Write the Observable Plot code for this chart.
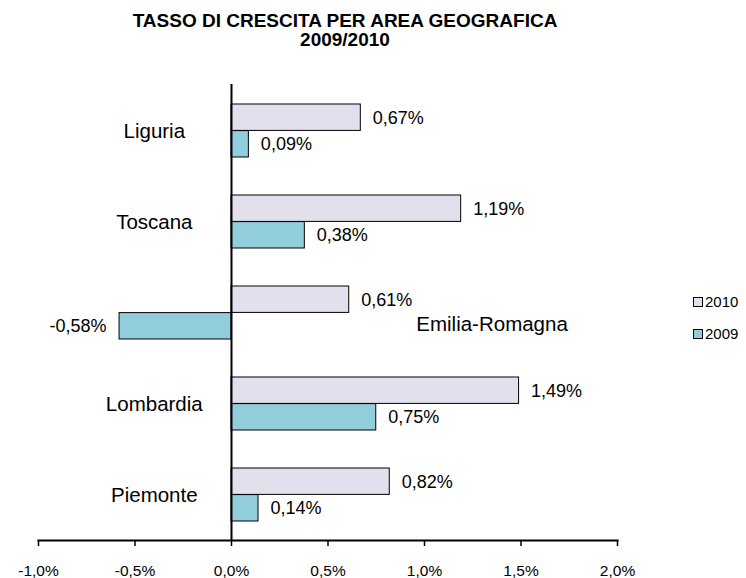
<!DOCTYPE html>
<html>
<head>
<meta charset="utf-8">
<script src="https://cdn.jsdelivr.net/npm/d3@7"></script>
<script src="https://cdn.jsdelivr.net/npm/@observablehq/plot@0.6"></script>
<style>
  html, body { margin: 0; padding: 0; background: #fff; }
  body { width: 746px; height: 578px; position: relative; overflow: hidden; font-family: "Liberation Sans", Arial, sans-serif; color: #000; }
  #title { position: absolute; left: 0; top: 0; width: 690px; height: 56px; text-align: center; font-weight: bold; font-size: 19px; line-height: 19px; padding-top: 11px; box-sizing: border-box; }
  #chart { position: absolute; left: 0; top: 56px; }
  #legend { position: absolute; left: 693px; top: 286px; font-size: 15px; line-height: 32px; }
  #legend .item { display: flex; align-items: center; height: 32px; }
  #legend .sw { width: 8px; height: 8px; border: 1px solid #000; margin-right: 2px; }
</style>
</head>
<body>
<div id="title">TASSO DI CRESCITA PER AREA GEOGRAFICA<br>2009/2010</div>
<div id="chart"></div>
<div id="legend"></div>
<script>
const regions = ["Liguria", "Toscana", "Emilia-Romagna", "Lombardia", "Piemonte"];
const v2010 = [0.67, 1.19, 0.61, 1.49, 0.82];
const v2009 = [0.09, 0.38, -0.58, 0.75, 0.14];
const years = ["2010", "2009"];
const yearColors = ["#E4DFEC", "#92CDDC"];
const xTicks = [-1, -0.5, 0, 0.5, 1, 1.5, 2];

const fmtVal = d => d.toFixed(2).replace(".", ",") + "%";
const fmtTick = d => d.toFixed(1).replace(".", ",") + "%";

const rows = [];
regions.forEach((r, i) => {
  rows.push({region: r, year: "2010", value: v2010[i]});
  rows.push({region: r, year: "2009", value: v2009[i]});
});
const r2010 = rows.filter(d => d.year === "2010");
const r2009 = rows.filter(d => d.year === "2009");
const hasNeg = r => rows.some(d => d.region === r && d.value < 0);

const BAND_IN = 19, BAND_OUT = 45.6;
const fontVal = 18;
const fontCat = 20.5;

const plot = Plot.plot({
  width: 746,
  height: 522,
  marginTop: 28,
  marginBottom: 38,
  marginLeft: 38,
  marginRight: 129,
  style: {fontFamily: "'Liberation Sans', Arial, sans-serif", color: "#000", background: "#fff"},
  x: {domain: [-1, 2], label: null},
  y: {domain: regions, padding: 0, axis: null},
  color: {domain: years, range: yearColors},
  marks: [
    Plot.barX(r2010, {x: "value", y: "region", fill: d => d.year, stroke: "#000", strokeWidth: 1, insetTop: BAND_IN, insetBottom: BAND_OUT}),
    Plot.barX(r2009, {x: "value", y: "region", fill: d => d.year, stroke: "#000", strokeWidth: 1, insetTop: BAND_OUT, insetBottom: BAND_IN}),
    Plot.ruleX([0], {stroke: "#000", strokeWidth: 2}),
    Plot.frame({anchor: "bottom", stroke: "#000", strokeWidth: 2}),
    Plot.axisX({ticks: xTicks, tickFormat: fmtTick, tickSize: 6, tickPadding: 18, fontSize: 15.5, stroke: "#000", strokeWidth: 1.5, label: null}),
    // value labels 2010
    Plot.text(r2010.filter(d => d.value >= 0), {x: "value", y: "region", text: d => fmtVal(d.value), textAnchor: "start", dx: 12, dy: -13, fontSize: fontVal}),
    Plot.text(r2010.filter(d => d.value < 0), {x: "value", y: "region", text: d => fmtVal(d.value), textAnchor: "end", dx: -12, dy: -13, fontSize: fontVal}),
    // value labels 2009
    Plot.text(r2009.filter(d => d.value >= 0), {x: "value", y: "region", text: d => fmtVal(d.value), textAnchor: "start", dx: 12, dy: 13, fontSize: fontVal}),
    Plot.text(r2009.filter(d => d.value < 0), {x: "value", y: "region", text: d => fmtVal(d.value), textAnchor: "end", dx: -13, dy: 13, fontSize: fontVal}),
    // category labels
    Plot.text(regions.filter(r => !hasNeg(r)), {x: () => -0.4, y: d => d, text: d => d, textAnchor: "middle", fontSize: fontCat}),
    Plot.text(regions.filter(r => hasNeg(r)), {x: () => 1.35, y: d => d, text: d => d, textAnchor: "middle", dy: 11, fontSize: fontCat})
  ]
});
document.getElementById("chart").appendChild(plot);

const legend = document.getElementById("legend");
years.forEach((y, i) => {
  const item = document.createElement("div");
  item.className = "item";
  const sw = document.createElement("span");
  sw.className = "sw";
  sw.style.background = yearColors[i];
  const lab = document.createElement("span");
  lab.textContent = y;
  item.appendChild(sw);
  item.appendChild(lab);
  legend.appendChild(item);
});
</script>
</body>
</html>
